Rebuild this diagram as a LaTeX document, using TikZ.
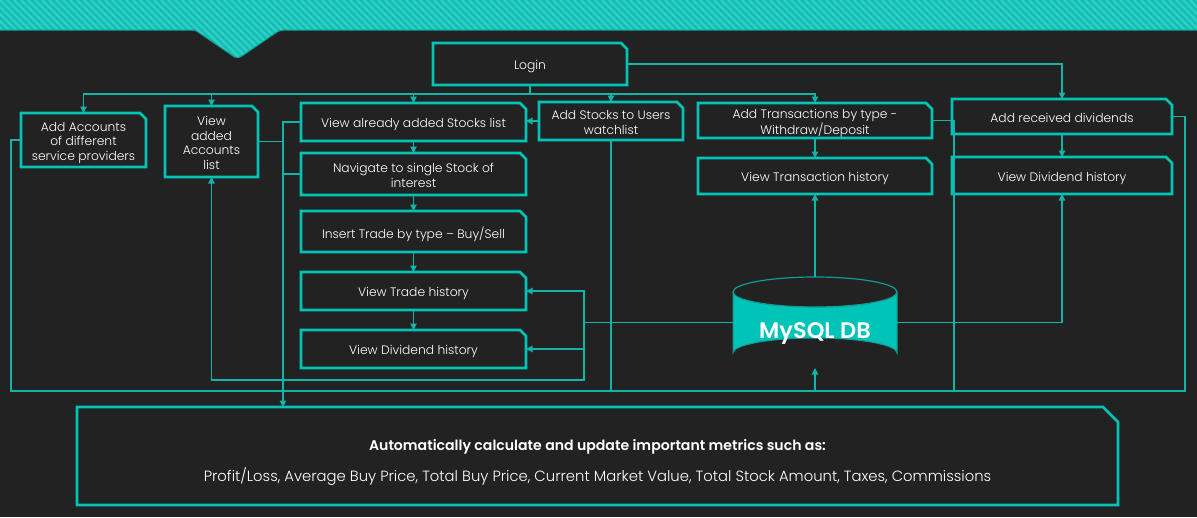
\documentclass[tikz,border=0pt]{standalone}
\usepackage{fontspec}
\setmainfont{Poppins}[UprightFont={* Light},BoldFont={* SemiBold}]
\usetikzlibrary{arrows.meta,calc}
\definecolor{bg}{HTML}{222222}
\definecolor{tl}{HTML}{00C4B8}
\definecolor{tlc}{HTML}{12B5AA}
\definecolor{tld}{HTML}{0E9C93}
\definecolor{bandA}{HTML}{10C0B4}
\definecolor{bandB}{HTML}{34CDC2}
\newcommand\boxtxt[1]{\raisebox{-3pt}[\height][\depth]{\begin{tabular}{@{}c@{}}#1\end{tabular}}}
\begin{document}
\begin{tikzpicture}[x=1pt,y=-1pt,
  box/.style n args={2}{rectangle, draw=none, minimum width=#1, minimum height=#2,
    inner sep=1pt, outer sep=0pt, align=center, text=white,
    font=\fontsize{12.3}{14.5}\selectfont},
  boxline/.style={draw=tl, line width=2.6pt, line join=miter},
  conn/.style={draw=tlc, line width=1.1pt},
  arr/.style={conn, -{Triangle[length=6.5pt,width=6.5pt]}},
]
\useasboundingbox (0,0) rectangle (1197,517);
\fill[bg] (0,0) rectangle (1197,517);

% top band
\begin{scope}
\clip (0,0) -- (1197,0) -- (1197,30) -- (280,30) [rounded corners=4pt] -- (237.5,59) -- (195,30) [sharp corners] -- (0,30) -- cycle;
\fill[bandA] (0,0) rectangle (1197,60);
\foreach \i in {-70,-63,...,1260} \draw[bandB, line width=2.2pt] (\i,0) -- ++(70,70);
\end{scope}
\draw[tld, line width=1pt] (0,30) -- (195,30) [rounded corners=4pt] -- (237.5,59) -- (280,30) [sharp corners] -- (1197,30);

% nodes
\node[box={194}{42}] (login) at (530,64) {\boxtxt{Login}};
\node[box={125}{54}] (acc) at (83.5,140) {\boxtxt{Add Accounts\\of different\\service providers}};
\node[box={93}{71}] (vacc) at (211.5,141.5) {\boxtxt{View\\added\\Accounts\\list}};
\node[box={225}{38}] (vstk) at (413.5,122) {\boxtxt{View already added Stocks list}};
\node[box={225}{42}] (nav) at (413.5,174) {\boxtxt{Navigate to single Stock of\\interest}};
\node[box={225}{41}] (ins) at (413.5,231.5) {\boxtxt{Insert Trade by type – Buy/Sell}};
\node[box={225}{38}] (vtr) at (413.5,291) {\boxtxt{View Trade history}};
\node[box={225}{38}] (vdivL) at (413.5,349) {\boxtxt{View Dividend history}};
\node[box={144}{38}] (addstk) at (611,121) {\boxtxt{Add Stocks to Users\\watchlist}};
\node[box={234}{35}] (addtx) at (815,120.5) {\boxtxt{Add Transactions by type -\\Withdraw/Deposit}};
\node[box={234}{36}] (vtx) at (815,176) {\boxtxt{View Transaction history}};
\node[box={220}{35}] (addiv) at (1062,116.5) {\boxtxt{Add received dividends}};
\node[box={220}{37}] (vdivR) at (1062,175.5) {\boxtxt{View Dividend history}};

\foreach \n in {login,acc,vacc,vstk,nav,ins,vtr,vdivL,addstk,addtx,vtx,addiv,vdivR}
  \draw[boxline] (\n.south west) -- (\n.north west) -- ($(\n.north east)+(-6,0)$) -- ($(\n.north east)+(0,6)$) -- (\n.south east) -- cycle;

% database
\fill[tl] (733,292) -- (733,353) arc[start angle=180,end angle=360,x radius=82,y radius=15] -- (897,292) arc[start angle=0,end angle=180,x radius=82,y radius=15] -- cycle;
\draw[tld, line width=1pt] (733,292) -- (733,353) arc[start angle=180,end angle=360,x radius=82,y radius=15] -- (897,292);
\draw[tld, line width=1.2pt] (815,292) ellipse[x radius=82, y radius=15];
\node[rectangle, minimum width=164, minimum height=91, inner sep=0pt, outer sep=0pt, text=white,
  font=\fontsize{22.5}{24}\bfseries\selectfont] (db) at (815,322.5) {\raisebox{-11pt}[\height][\depth]{MySQL DB}};

% bottom box
\node[box={1041}{98}, font=\fontsize{14.8}{17}\selectfont] (calc) at (597.5,456) {\raisebox{-6.5pt}[\height][\depth]{\begin{tabular}{@{}c@{}}{\fontsize{14.1}{17}\bfseries\selectfont Automatically calculate and update important metrics such as:}\\[12pt]
  Profit/Loss, Average Buy Price, Total Buy Price, Current Market Value, Total Stock Amount, Taxes, Commissions\end{tabular}}};
\draw[boxline] (calc.south west) -- (calc.north west) -- ($(calc.north east)+(-15,0)$) -- ($(calc.north east)+(0,15)$) -- (calc.south east) -- cycle;

% connectors from login
\coordinate (bus) at (530,94);
\draw[conn] (login.south) -- (bus);
\draw[arr] (bus) -| (acc.north);
\draw[arr] (bus) -| (vacc.north);
\draw[arr] (bus) -| (vstk.north);
\draw[arr] (bus) -| (addstk.north);
\draw[arr] (bus) -| (addtx.north);
\draw[arr] (login.east) -| (addiv.north);

\draw[arr] (addstk.west) -- (addstk.west -| vstk.east);
\draw[arr] (vstk.south) -- (nav.north);
\draw[arr] (nav.south) -- (ins.north);
\draw[arr] (ins.south) -- (vtr.north);
\draw[arr] (vtr.south) -- (vdivL.north);
\draw[arr] (addtx.south) -- (vtx.north);
\draw[arr] (addiv.south) -- (vdivR.north);

% from database
\draw[arr] (db.north) -- (vtx.south);
\draw[arr] (db.east) -| (vdivR.south);
\coordinate (j1) at (584,322.5);
\draw[conn] (db.west) -- (j1);
\draw[arr] (j1) |- (vtr.east);
\draw[arr] (j1) |- (vdivL.east);
\coordinate (j2) at (584,380);
\draw[arr] (j1) -- (j2) -| (vacc.south);

% to bottom box
\coordinate (m1) at (283,122);
\draw[arr] (vstk.west) -- (m1) -- (m1 |- calc.north);
\draw[conn] (nav.west) -- (nav.west -| m1);
\draw[conn] (vacc.east) -- (vacc.east -| m1);

% to database bottom
\coordinate (b) at (815,391);
\draw[conn] (acc.west) -- ++(-10,0) |- (b);
\draw[conn] (addstk.south) -- (addstk.south |- b);
\coordinate (t1) at (954,120.5);
\draw[conn] (addtx.east) -- (t1) -- (t1 |- b) -- (b);
\coordinate (t2) at (1185,116.5);
\draw[conn] (addiv.east) -- (t2) -- (t2 |- b) -- (b);
\draw[arr] (b) -- (db.south);
\end{tikzpicture}
\end{document}
